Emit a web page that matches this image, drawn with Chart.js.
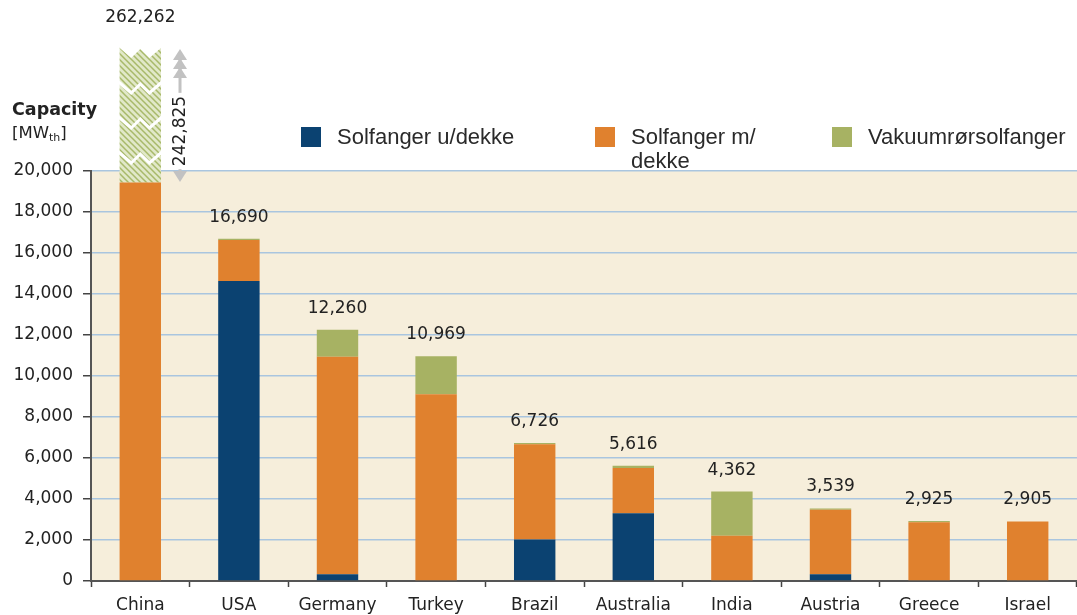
<!DOCTYPE html>
<html>
<head>
<meta charset="utf-8">
<title>Solar thermal capacity</title>
<script src="https://cdn.jsdelivr.net/npm/chart.js@4"></script>
<style>
  body { margin: 0; background: #fff; }
  #wrap { width: 1077px; height: 615px; }
</style>
</head>
<body>
<div id="wrap"><canvas id="capChart" width="1077" height="615"></canvas></div>
<script>
// data (MWth)
const countries = ["China", "USA", "Germany", "Turkey", "Brazil", "Australia", "India", "Austria", "Greece", "Israel"];
const unglazed = [0, 14630, 330, 0, 2030, 3310, 0, 330, 0, 0];          // Solfanger u/dekke
const glazed = [19437, 2010, 10610, 9107, 4640, 2200, 2210, 3140, 2865, 2905]; // Solfanger m/ dekke
const vacuum = [242825, 50, 1320, 1862, 56, 106, 2152, 69, 60, 0];     // Vakuumrørsolfanger
const totals = [262262, 16690, 12260, 10969, 6726, 5616, 4362, 3539, 2925, 2905];
const yTicks = [0, 2000, 4000, 6000, 8000, 10000, 12000, 14000, 16000, 18000, 20000];

const BLUE = "#0b4271";
const ORANGE = "#e0812e";
const GREEN = "#a7b263";
const FONT = "'DejaVu Sans', Verdana, sans-serif";
const BREAK_EXTRA = 124; // px the broken China bar shows above the axis top

function fmt(v) {
  return v.toLocaleString("en-US");
}

// hatched fill for the broken China bar
function makeHatch() {
  const c = document.createElement("canvas");
  c.width = 6; c.height = 6;
  const g = c.getContext("2d");
  g.fillStyle = "#e1e8c8";
  g.fillRect(0, 0, 6, 6);
  g.strokeStyle = "#a8b96a";
  g.lineWidth = 1.5;
  g.beginPath();
  g.moveTo(-1, -1); g.lineTo(7, 7);
  g.moveTo(-4, 2); g.lineTo(4, 10);
  g.moveTo(2, -4); g.lineTo(10, 4);
  g.stroke();
  return g.createPattern(c, "repeat");
}

const ctx = document.getElementById("capChart").getContext("2d");
const hatch = makeHatch();

const areaBg = {
  id: "areaBg",
  beforeDraw(chart) {
    const a = chart.chartArea;
    const c = chart.ctx;
    c.save();
    c.fillStyle = "#f6eedb";
    c.fillRect(a.left, a.top, a.right - a.left, a.bottom - a.top);
    c.restore();
  }
};

const extras = {
  id: "extras",
  afterDatasetsDraw(chart) {
    const c = chart.ctx;
    const a = chart.chartArea;
    const y = chart.scales.y;
    const metaV = chart.getDatasetMeta(2);
    const breakTop = a.top - BREAK_EXTRA;

    // zigzag breaks on China bar
    const bar = metaV.data[0];
    const left = bar.x - bar.width / 2;
    const right = bar.x + bar.width / 2;
    const w = right - left;
    c.save();
    c.fillStyle = "#fff";
    c.strokeStyle = "#fff";
    c.lineWidth = 3;
    [0, 35, 70, 105].forEach((off, i) => {
      const o = breakTop + off;
      c.beginPath();
      c.moveTo(left - 1, o);
      c.lineTo(left + w * 0.28, o + 11);
      c.lineTo(left + w * 0.5, o + 2);
      c.lineTo(left + w * 0.72, o + 11);
      c.lineTo(right + 1, o);
      if (i === 0) {
        c.lineTo(right + 1, o - 3);
        c.lineTo(left - 1, o - 3);
        c.closePath();
        c.fill();
      } else {
        c.stroke();
      }
    });

    // double arrow with the hidden amount
    const ax = right + 19;
    const aTop = breakTop + 2;
    const aBot = a.top + 11;
    c.fillStyle = "#c2c2c2";
    c.strokeStyle = "#c2c2c2";
    c.lineWidth = 3;
    c.beginPath();
    c.moveTo(ax, aTop + 8);
    c.lineTo(ax, aBot - 8);
    c.stroke();
    [0, 9, 18].forEach(d => {
      c.beginPath();
      c.moveTo(ax, aTop + d);
      c.lineTo(ax - 7, aTop + d + 11);
      c.lineTo(ax + 7, aTop + d + 11);
      c.closePath();
      c.fill();
    });
    c.beginPath();
    c.moveTo(ax, aBot);
    c.lineTo(ax - 7, aBot - 11);
    c.lineTo(ax + 7, aBot - 11);
    c.closePath();
    c.fill();

    c.translate(ax, breakTop + 84);
    c.rotate(-Math.PI / 2);
    c.font = "17px " + FONT;
    c.textAlign = "center";
    c.textBaseline = "middle";
    const label = fmt(vacuum[0]);
    const tw = c.measureText(label).width;
    c.fillStyle = "#fff";
    c.fillRect(-tw / 2 - 3, -10, tw + 6, 20);
    c.fillStyle = "#222";
    c.fillText(label, 0, 1);
    c.restore();

    // totals above bars
    c.save();
    c.font = "17px " + FONT;
    c.fillStyle = "#222";
    c.textAlign = "center";
    c.textBaseline = "bottom";
    totals.forEach((t, i) => {
      const x = metaV.data[i].x;
      let top = y.getPixelForValue(t);
      if (top < breakTop) top = breakTop - 8;
      c.fillText(fmt(t), x, top - 13);
    });
    c.restore();

    // axis title
    c.save();
    c.fillStyle = "#222";
    c.textBaseline = "alphabetic";
    c.font = "bold 17.5px " + FONT;
    c.fillText("Capacity", 12, 115);
    c.font = "16.5px " + FONT;
    c.fillText("[MW", 12, 138);
    let x = 12 + c.measureText("[MW").width;
    c.font = "11px " + FONT;
    c.fillText("th", x, 141);
    x += c.measureText("th").width;
    c.font = "16.5px " + FONT;
    c.fillText("]", x, 138);
    c.restore();

    // legend
    c.save();
    c.font = "22px 'Liberation Sans', Arial, sans-serif";
    c.textBaseline = "middle";
    const items = [
      { color: BLUE, x: 301, lines: ["Solfanger u/dekke"] },
      { color: ORANGE, x: 595, lines: ["Solfanger m/", "dekke"] },
      { color: GREEN, x: 832, lines: ["Vakuumrørsolfanger"] }
    ];
    items.forEach(it => {
      c.fillStyle = it.color;
      c.fillRect(it.x, 127, 20, 20);
      c.fillStyle = "#2a2a2a";
      it.lines.forEach((ln, k) => c.fillText(ln, it.x + 36, 138 + k * 24));
    });
    c.restore();
  }
};

new Chart(ctx, {
  type: "bar",
  data: {
    labels: countries,
    datasets: [
      { label: "Solfanger u/dekke", data: unglazed, backgroundColor: BLUE },
      { label: "Solfanger m/ dekke", data: glazed, backgroundColor: ORANGE },
      {
        label: "Vakuumrørsolfanger",
        data: vacuum,
        backgroundColor: vacuum.map((v, i) => i === 0 ? hatch : GREEN),
        clip: { left: 0, top: BREAK_EXTRA, right: 0, bottom: 0 }
      }
    ]
  },
  options: {
    responsive: false,
    animation: false,
    layout: { padding: { top: 171, left: 0, right: 0, bottom: 0 } },
    plugins: { legend: { display: false }, tooltip: { enabled: false } },
    datasets: { bar: { categoryPercentage: 1, barPercentage: 0.42 } },
    scales: {
      x: {
        stacked: true,
        afterFit(s) { s.height = 34; },
        grid: { drawOnChartArea: false, tickLength: 6, tickColor: "#444", tickWidth: 1.5 },
        border: { color: "#555", width: 2 },
        ticks: { color: "#222", font: { family: FONT, size: 17 }, padding: 8 }
      },
      y: {
        stacked: true,
        min: 0,
        max: 20000,
        afterFit(s) { s.width = 91; },
        afterBuildTicks(s) { s.ticks = yTicks.map(v => ({ value: v })); },
        grid: { color: "#a9c5df", lineWidth: 1.5, tickLength: 8, tickColor: "#444", tickWidth: 1.5 },
        border: { color: "#555", width: 2 },
        ticks: { color: "#222", font: { family: FONT, size: 17 }, padding: 10, callback: v => fmt(v) }
      }
    }
  },
  plugins: [areaBg, extras]
});
</script>
</body>
</html>
